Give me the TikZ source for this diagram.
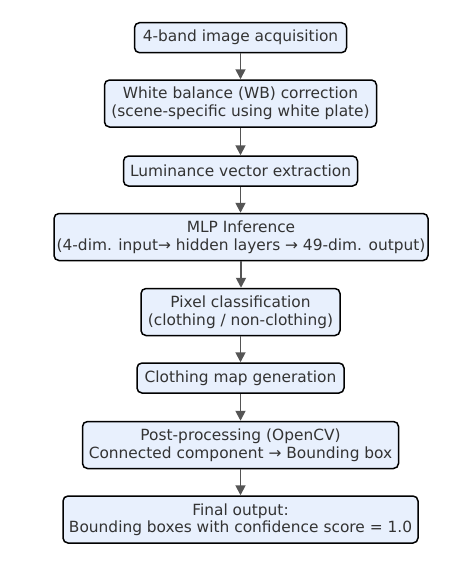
\documentclass[tikz,border=0pt]{standalone}
\usepackage{fontspec}
\setmainfont{DejaVu Sans}
\usetikzlibrary{arrows.meta}
\definecolor{boxfill}{RGB}{232,240,253}
\definecolor{arrowgray}{RGB}{85,85,85}
\tikzset{
  stepbox/.style={draw=black, line width=1.5pt, fill=boxfill, rounded corners=5pt,
    align=center, inner sep=0pt, font=\fontsize{15.4}{17.5}\selectfont, text=black!80},
  flow/.style={draw=arrowgray, line width=1.8pt, -{Triangle[length=10pt,width=10pt]}}
}
\begin{document}
\begin{tikzpicture}[x=1pt,y=-1pt]
\useasboundingbox (0,0) rectangle (476,562);
\node[stepbox, minimum width=212pt, minimum height=30pt] (n1) at (240.5,37.7) {4-band image acquisition};
\node[stepbox, minimum width=272pt, minimum height=47pt] (n2) at (240.5,103.5) {White balance (WB) correction\\(scene-specific using white plate)};
\node[stepbox, minimum width=234pt, minimum height=30pt] (n3) at (240.5,171) {Luminance vector extraction};
\node[stepbox, minimum width=374pt, minimum height=47pt] (n4) at (241,237) {MLP Inference\\(4-dim. input→ hidden layers → 49-dim. output)};
\node[stepbox, minimum width=199pt, minimum height=47pt] (n5) at (240.5,312) {Pixel classification\\(clothing / non-clothing)};
\node[stepbox, minimum width=207pt, minimum height=30pt] (n6) at (240.5,378) {Clothing map generation};
\node[stepbox, minimum width=316pt, minimum height=47pt] (n7) at (240.5,445) {Post-processing (OpenCV)\\Connected component → Bounding box};
\node[stepbox, minimum width=355pt, minimum height=47pt] (n8) at (240.5,519.5) {Final output:\\Bounding boxes with confidence score = 1.0};
\foreach \a/\b in {n1/n2,n2/n3,n3/n4,n4/n5,n5/n6,n6/n7,n7/n8}
  \draw[flow] (\a.south) -- (\a.south |- \b.north);
\end{tikzpicture}
\end{document}
